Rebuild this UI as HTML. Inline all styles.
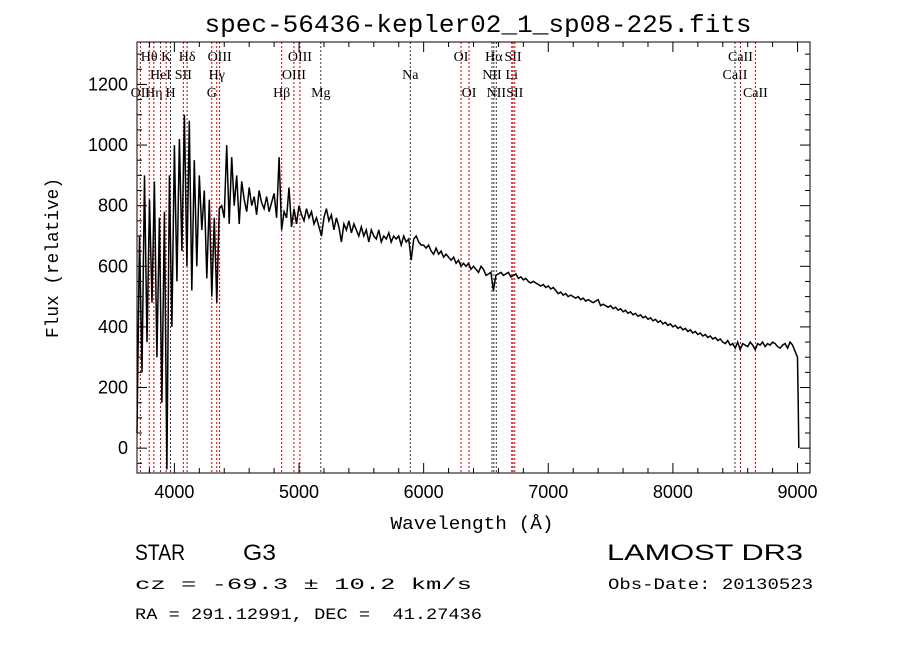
<!DOCTYPE html>
<html><head><meta charset="utf-8"><style>
html,body{margin:0;padding:0;background:#fff;}
svg{display:block;}
</style></head><body>
<svg id="chart" width="900" height="649" viewBox="0 0 900 649" xmlns="http://www.w3.org/2000/svg">
<rect width="900" height="649" fill="#fff"/>
<text x="478" y="32" text-anchor="middle" font-family="Liberation Mono, monospace" font-size="25" textLength="547" lengthAdjust="spacingAndGlyphs">spec-56436-kepler02_1_sp08-225.fits</text>
<g id="lines"></g>
<g id="spec"></g>
<g id="axes"></g>
<text x="472" y="529" text-anchor="middle" font-family="Liberation Mono, monospace" font-size="18" textLength="163" lengthAdjust="spacingAndGlyphs">Wavelength (Å)</text>
<text transform="translate(58,258) rotate(-90)" text-anchor="middle" font-family="Liberation Mono, monospace" font-size="18" textLength="160" lengthAdjust="spacingAndGlyphs">Flux (relative)</text>
<text x="135" y="560" font-family="Liberation Sans, sans-serif" font-size="22" textLength="50" lengthAdjust="spacingAndGlyphs">STAR</text>
<text x="243" y="560" font-family="Liberation Sans, sans-serif" font-size="22" textLength="33" lengthAdjust="spacingAndGlyphs">G3</text>
<text x="607" y="560" font-family="Liberation Sans, sans-serif" font-size="22" textLength="196" lengthAdjust="spacingAndGlyphs">LAMOST DR3</text>
<text x="135" y="589" font-family="Liberation Mono, monospace" font-size="16" textLength="337" lengthAdjust="spacingAndGlyphs">cz = -69.3 ± 10.2 km/s</text>
<text x="608" y="589" font-family="Liberation Mono, monospace" font-size="16" textLength="205" lengthAdjust="spacingAndGlyphs">Obs-Date: 20130523</text>
<text x="135" y="619" font-family="Liberation Mono, monospace" font-size="16" textLength="347" lengthAdjust="spacingAndGlyphs" xml:space="preserve">RA = 291.12991, DEC =  41.27436</text>
</svg>
<script>
const xTicks=[4000,5000,6000,7000,8000,9000];
const yTicks=[0,200,400,600,800,1000,1200];
const fluxStart=3700;
const fluxStep=20;
const flux=[50,700,250,900,350,820,480,880,300,760,150,780,-70,900,400,
1000,550,1020,650,1100,600,1080,520,950,600,900,720,850,560,820,500,760,480,790,800,760,1000,740,960,800,900,740,880,820,780,860,800,830,770,850,810,790,830,780,810,840,760,960,720,780,760,860,730,790,740,
800,770,750,790,760,780,740,760,730,700,760,790,750,770,720,760,730,680,740,720,750,710,740,720,700,730,700,720,680,720,700,690,720,680,700,690,710,680,700,690,700,670,700,680,690,620,690,700,680,670,
670,660,670,650,640,660,640,650,630,640,630,620,630,610,620,600,610,600,610,590,600,590,580,600,590,570,575,580,520,570,575,580,570,575,580,565,570,575,560,565,555,560,550,545,550,545,540,535,540,530,
535,525,530,520,510,515,505,510,500,505,500,495,500,490,495,485,490,485,480,485,490,470,475,470,465,470,460,465,455,460,450,455,445,450,440,445,435,440,430,435,425,430,420,425,415,420,410,415,405,410,
400,405,395,400,390,395,385,390,380,385,375,380,370,375,365,370,360,365,355,360,350,345,355,340,345,330,350,325,345,340,335,350,340,325,345,340,350,335,345,340,350,345,335,330,340,345,330,350,340,320,300];
const dropWaves=[9005,9010];
const dropFlux=[150,0];
const lineWaves=[3727,3798,3835,3889,3934,3969,4072,4102,4300,4340,4363,4861,4959,5007,5175,5893,6300,6364,6548,6563,6583,6707,6717,6731,8498,8542,8662];
const lineNames=["OII","Hθ","Hη","HeI","K","H","SII","Hδ","G","Hγ","OIII","Hβ","OIII","OIII","Mg","Na","OI","OI","NII","Hα","NII","Li","SII","SII","CaII","CaII","CaII"];
const lineRows=[3,1,3,2,1,3,2,1,3,2,1,3,2,1,3,2,1,3,2,1,3,2,1,3,2,1,3];
const lineRed=[1,1,1,1,1,0,1,0,1,1,1,1,1,1,0,0,1,1,0,0,0,1,1,1,0,1,1];
const X0=137,X1=810,Y0=42,Y1=473,WMIN=3700,WMAX=9100,FMIN=-82,FMAX=1340;
const sx=w=>X0+(w-WMIN)/(WMAX-WMIN)*(X1-X0);
const sy=f=>Y1-(f-FMIN)/(FMAX-FMIN)*(Y1-Y0);
const NS="http://www.w3.org/2000/svg";
function mk(tag,parent,attrs){const e=document.createElementNS(NS,tag);for(const k in attrs)e.setAttribute(k,attrs[k]);parent.appendChild(e);return e;}
const gL=document.getElementById('lines'),gS=document.getElementById('spec'),gA=document.getElementById('axes');
const rowY={1:61,2:79,3:97};
lineWaves.forEach((w,i)=>{
 const x=sx(w);
 const l=mk('line',gL,{x1:x,x2:x,y1:Y0,y2:Y1,stroke:lineRed[i]?'#c00':'#333','stroke-width':1,'stroke-dasharray':'2,2'});
 
 
 const t=mk('text',gL,{x:x,y:rowY[lineRows[i]],'text-anchor':'middle','font-family':'Liberation Serif, serif','font-size':14});
 t.textContent=lineNames[i];
 
 
});
let pts=flux.map((f,i)=>sx(fluxStart+i*fluxStep).toFixed(1)+','+sy(f).toFixed(1));
dropWaves.forEach((w,i)=>pts.push(sx(w).toFixed(1)+','+sy(dropFlux[i]).toFixed(1)));
const p=mk('polyline',gS,{points:pts.join(' '),fill:'none',stroke:'#000','stroke-width':1.5});


const fr=mk('rect',gA,{x:X0,y:Y0,width:X1-X0,height:Y1-Y0,fill:'none',stroke:'#000','stroke-width':1});


for(let w=3800;w<=9100;w+=200){const x=sx(w);const L=(w%1000===0)?10:5;
 mk('line',gA,{x1:x,x2:x,y1:Y1,y2:Y1-L,stroke:'#000'});mk('line',gA,{x1:x,x2:x,y1:Y0,y2:Y0+L,stroke:'#000'});}
for(let f=-50;f<=1300;f+=50){const y=sy(f);const L=(f%200===0)?10:5;
 mk('line',gA,{x1:X0,x2:X0+L,y1:y,y2:y,stroke:'#000'});mk('line',gA,{x1:X1,x2:X1-L,y1:y,y2:y,stroke:'#000'});}
xTicks.forEach(v=>{const t=mk('text',gA,{x:sx(v),y:498,'text-anchor':'middle','font-family':'Liberation Sans, sans-serif','font-size':18});t.textContent=v;
 
 });
yTicks.forEach(v=>{const t=mk('text',gA,{x:128,y:sy(v)+6,'text-anchor':'end','font-family':'Liberation Sans, sans-serif','font-size':18});t.textContent=v;
 
 });
</script>
</body></html>
